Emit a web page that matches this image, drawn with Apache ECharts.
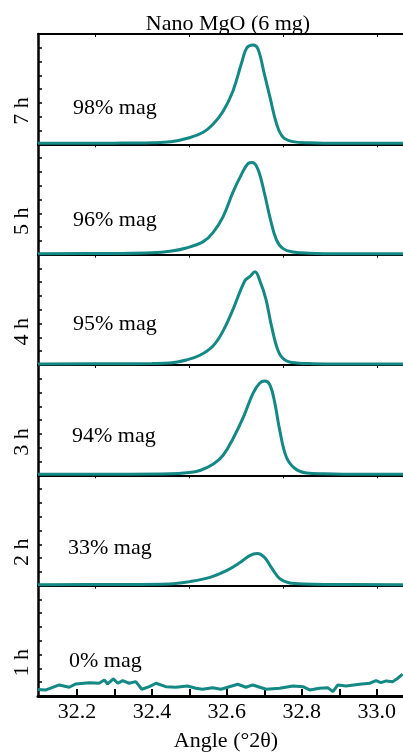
<!DOCTYPE html>
<html>
<head>
<meta charset="utf-8">
<script src="https://cdn.jsdelivr.net/npm/echarts@6/dist/echarts.min.js"></script>
<style>
  html, body { margin: 0; padding: 0; background: #fff; }
  #chart { width: 403px; height: 754px; }
</style>
</head>
<body>
<div id="chart"></div>
<script>
// panel labels, top to bottom
var hourLabels = ['7 h', '5 h', '4 h', '3 h', '2 h', '1 h'];
var magLabels = ['98% mag', '96% mag', '95% mag', '94% mag', '33% mag', '0% mag'];

// x axis
var angleLabels = [32.2, 32.4, 32.6, 32.8, 33.0];
var angleMinor = [32.2, 32.3, 32.4, 32.5, 32.6, 32.7, 32.8, 32.9, 33.0];
var sepTicks = [32.25, 32.5, 32.75, 33.0];

// 7 h
var h7Angle = [32.096, 32.30, 32.40, 32.45, 32.50, 32.537, 32.563, 32.59, 32.616, 32.64, 32.653, 32.67, 32.683, 32.70, 32.715, 32.733, 32.75, 32.776, 32.82, 32.90, 33.07];
var h7Int = [1, 1.2, 1.6, 2.5, 6.5, 12, 20, 33, 53, 82, 96, 99, 95, 70, 47, 20, 7, 2.7, 1.5, 1, 1];
// 5 h
var h5Angle = [32.096, 32.30, 32.40, 32.448, 32.492, 32.537, 32.563, 32.59, 32.616, 32.639, 32.657, 32.668, 32.683, 32.701, 32.715, 32.732, 32.75, 32.777, 32.82, 32.90, 33.07];
var h5Int = [1, 1.2, 1.8, 3.3, 6.7, 13, 22, 38, 62, 80, 91, 92, 85, 60, 37, 15, 6, 2.7, 1.5, 1, 1];
// 4 h
var h4Angle = [32.096, 32.30, 32.40, 32.448, 32.492, 32.528, 32.563, 32.59, 32.617, 32.648, 32.661, 32.675, 32.688, 32.704, 32.719, 32.737, 32.755, 32.786, 32.83, 32.90, 33.07];
var h4Int = [1, 1.2, 1.5, 2, 5, 9.7, 19, 34, 56, 84, 88, 93, 84, 66, 39, 14, 5, 2, 1.3, 1, 1];
// 3 h
var h3Angle = [32.096, 32.30, 32.45, 32.492, 32.528, 32.563, 32.59, 32.617, 32.644, 32.67, 32.688, 32.701, 32.715, 32.728, 32.741, 32.759, 32.781, 32.812, 32.86, 32.95, 33.07];
var h3Int = [1, 1.1, 1.5, 2.5, 4.8, 11, 20, 37, 58, 82, 92, 94, 90, 72, 45, 18, 7, 2.3, 1.5, 1, 1];
// 2 h
var h2Angle = [32.096, 32.30, 32.448, 32.501, 32.555, 32.599, 32.635, 32.661, 32.681, 32.701, 32.719, 32.741, 32.768, 32.803, 32.86, 33.07];
var h2Int = [1, 1.2, 1.7, 4, 8.3, 15, 23, 30, 32, 28, 18, 7, 2.7, 1.7, 1.2, 1];
// 1 h
var h1Angle = [32.096, 32.117, 32.153, 32.179, 32.197, 32.233, 32.259, 32.273, 32.282, 32.297, 32.309, 32.322, 32.339, 32.357, 32.373, 32.393, 32.411, 32.437, 32.464, 32.495, 32.517, 32.535, 32.562, 32.584, 32.60, 32.629, 32.651, 32.669, 32.705, 32.741, 32.776, 32.803, 32.821, 32.847, 32.869, 32.883, 32.896, 32.918, 32.954, 32.981, 32.998, 33.011, 33.025, 33.043, 33.056, 33.069];
var h1Int = [6.5, 6, 11, 8.7, 12, 13.3, 12.7, 16, 12, 17, 12.7, 15.3, 12.7, 14.3, 6.7, 9.3, 12.7, 9.3, 8.7, 10, 7.7, 6.7, 8.3, 6.7, 8.5, 11.7, 8.7, 11, 6.7, 7.7, 10, 9.3, 6, 7.7, 8.3, 4.3, 11, 10, 11.7, 12.7, 15.3, 13.3, 15, 14.3, 17.7, 21.7];

var panels = [[h7Angle, h7Int], [h5Angle, h5Int], [h4Angle, h4Int], [h3Angle, h3Int], [h2Angle, h2Int], [h1Angle, h1Int]];

var font = 'Liberation Serif';
var teal = '#138884';
var top0 = 34, panelH = 110.33;
var magPos = [[73, 74], [73, 76], [73, 70], [72, 71], [68, 73], [69, 76]];

var chart = echarts.init(document.getElementById('chart'));

var grids = [], xAxes = [], yAxes = [], series = [], graphics = [];
panels.forEach(function (p, i) {
  var top = top0 + i * panelH;
  var last = i === panels.length - 1;
  grids.push({ left: 38, right: 0, top: top, height: panelH });
  xAxes.push({
    gridIndex: i, type: 'value', min: 32.096, max: 33.07,
    axisLine: { show: true, onZero: false, lineStyle: { color: '#000', width: last ? 3 : 2 } },
    axisTick: last
      ? { show: true, inside: true, length: 7, customValues: angleMinor, lineStyle: { color: '#000', width: 2 } }
      : { show: true, length: 3, customValues: sepTicks, lineStyle: { color: '#000', width: 1 } },
    axisLabel: last
      ? { show: true, customValues: angleLabels, margin: 5, formatter: function (v) { return v.toFixed(1); }, fontFamily: font, fontSize: 22, color: '#000' }
      : { show: false },
    splitLine: { show: false },
    name: last ? 'Angle (°2θ)' : '',
    nameLocation: 'middle', nameGap: 34,
    nameTextStyle: { fontFamily: font, fontSize: 22, color: '#000', padding: [0, 0, 0, 11] }
  });
  yAxes.push({
    gridIndex: i, type: 'value', min: 0, max: 110, interval: 13.75,
    axisLine: { show: true, onZero: false, lineStyle: { color: '#000', width: 2.5 } },
    axisTick: { show: true, inside: true, length: 4, lineStyle: { color: '#000', width: 1.5 } },
    axisLabel: { show: false },
    splitLine: { show: false }
  });
  series.push({
    type: 'line', xAxisIndex: i, yAxisIndex: i,
    data: p[0].map(function (a, k) { return [a, p[1][k]]; }),
    showSymbol: false, smooth: last ? false : 0.4,
    lineStyle: { color: teal, width: 3 },
    silent: true
  });
  graphics.push({
    type: 'text', x: 22, y: top + 77, rotation: Math.PI / 2,
    style: { text: hourLabels[i], font: '22px "' + font + '"', fill: '#000', align: 'center', verticalAlign: 'middle' }
  });
  graphics.push({
    type: 'text', x: magPos[i][0], y: top + magPos[i][1],
    style: { text: magLabels[i], font: '22px "' + font + '"', fill: '#000', align: 'left', verticalAlign: 'middle' }
  });
});

// top frame line of the first panel
xAxes.push({
  gridIndex: 0, type: 'value', position: 'top', min: 32.096, max: 33.07,
  axisLine: { show: true, onZero: false, lineStyle: { color: '#000', width: 2 } },
  axisTick: { show: true, inside: true, length: 3, customValues: sepTicks, lineStyle: { color: '#000', width: 1 } },
  axisLabel: { show: false },
  splitLine: { show: false }
});

var option = {
  animation: false,
  title: {
    text: 'Nano MgO (6 mg)', left: 223, top: 8, textAlign: 'center',
    textStyle: { fontFamily: font, fontSize: 22, fontWeight: 'normal', color: '#000' }
  },
  grid: grids,
  xAxis: xAxes,
  yAxis: yAxes,
  series: series,
  graphic: graphics
};

chart.setOption(option);
</script>
</body>
</html>
